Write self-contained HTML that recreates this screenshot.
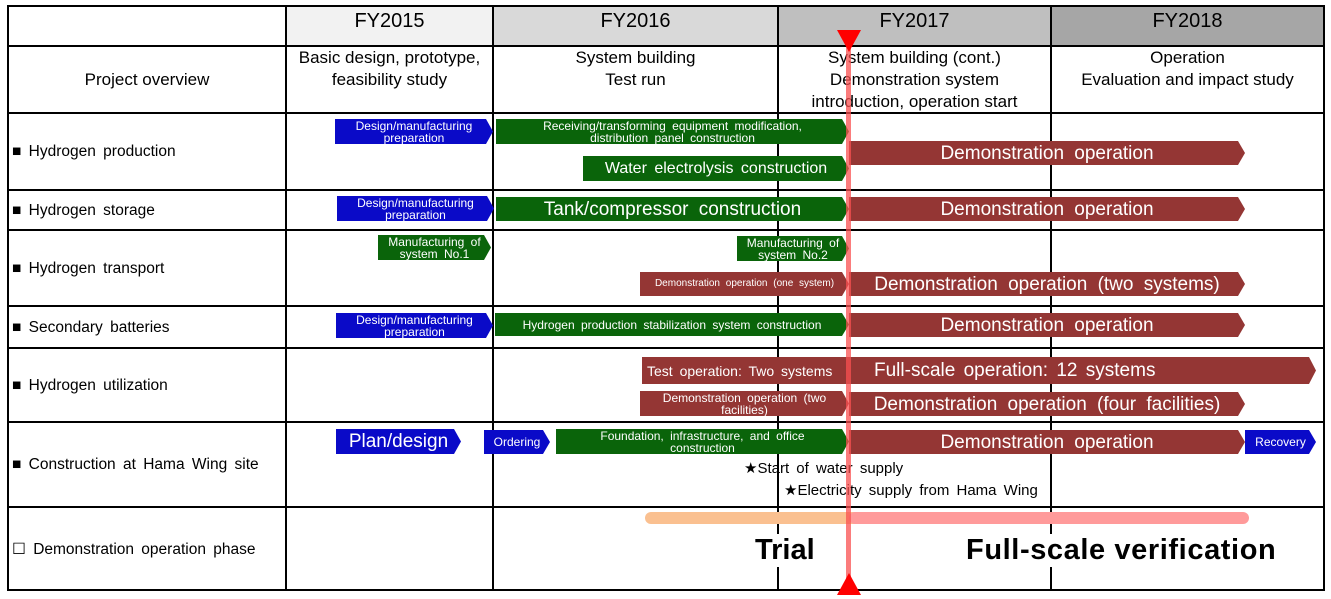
<!DOCTYPE html>
<html><head><meta charset="utf-8"><style>
*{margin:0;padding:0;box-sizing:border-box}
body{width:1331px;height:599px;background:#fff;position:relative;overflow:hidden;font-family:"Liberation Sans",sans-serif;color:#000}
.a{position:absolute}
.h{position:absolute;background:#000}
.c{position:absolute;display:flex;align-items:center;justify-content:center;text-align:center;line-height:1.3}
.lab{position:absolute;left:12px;font-size:15.5px;word-spacing:3px;display:flex;align-items:center}
.b{position:absolute;display:flex;align-items:center;justify-content:center;text-align:center;color:#fff;line-height:1.0;word-spacing:3px;clip-path:polygon(0 0,calc(100% - 7px) 0,100% 50%,calc(100% - 7px) 100%,0 100%);white-space:nowrap}
.bl{background:#0a0ac8}.gr{background:#0a640a}.rd{background:#943634}
.L{font-size:19px;word-spacing:5px}
</style></head><body>
<div class="a" style="left:286px;top:6px;width:207px;height:40px;background:#f2f2f2"></div>
<div class="a" style="left:493px;top:6px;width:285px;height:40px;background:#d9d9d9"></div>
<div class="a" style="left:778px;top:6px;width:273px;height:40px;background:#bfbfbf"></div>
<div class="a" style="left:1051px;top:6px;width:273px;height:40px;background:#a6a6a6"></div>
<div class="h" style="left:7px;top:5px;width:1318px;height:2px"></div>
<div class="h" style="left:7px;top:45px;width:1318px;height:2px"></div>
<div class="h" style="left:7px;top:112px;width:1318px;height:2px"></div>
<div class="h" style="left:7px;top:189px;width:1318px;height:2px"></div>
<div class="h" style="left:7px;top:229px;width:1318px;height:2px"></div>
<div class="h" style="left:7px;top:305px;width:1318px;height:2px"></div>
<div class="h" style="left:7px;top:347px;width:1318px;height:2px"></div>
<div class="h" style="left:7px;top:421px;width:1318px;height:2px"></div>
<div class="h" style="left:7px;top:506px;width:1318px;height:2px"></div>
<div class="h" style="left:7px;top:589px;width:1318px;height:2px"></div>
<div class="h" style="left:7px;top:5px;width:2px;height:586px"></div>
<div class="h" style="left:285px;top:5px;width:2px;height:586px"></div>
<div class="h" style="left:492px;top:5px;width:2px;height:586px"></div>
<div class="h" style="left:777px;top:5px;width:2px;height:586px"></div>
<div class="h" style="left:1050px;top:5px;width:2px;height:586px"></div>
<div class="h" style="left:1323px;top:5px;width:2px;height:586px"></div>
<div class="c" style="left:286px;top:6px;width:207px;height:30px;font-size:20px">FY2015</div>
<div class="c" style="left:493px;top:6px;width:285px;height:30px;font-size:20px">FY2016</div>
<div class="c" style="left:778px;top:6px;width:273px;height:30px;font-size:20px">FY2017</div>
<div class="c" style="left:1051px;top:6px;width:273px;height:30px;font-size:20px">FY2018</div>
<div class="c" style="left:8px;top:47px;width:278px;height:66px;font-size:17px">Project overview</div>
<div class="c" style="left:286px;top:47px;width:207px;height:44px;font-size:17px">Basic design, prototype,<br>feasibility study</div>
<div class="c" style="left:493px;top:47px;width:285px;height:44px;font-size:17px">System building<br>Test run</div>
<div class="c" style="left:778px;top:47px;width:273px;height:66px;font-size:17px">System building (cont.)<br>Demonstration system<br>introduction, operation start</div>
<div class="c" style="left:1051px;top:47px;width:273px;height:44px;font-size:17px">Operation<br>Evaluation and impact study</div>
<div class="lab" style="top:114px;height:76px">■ Hydrogen production</div>
<div class="lab" style="top:191px;height:39px">■ Hydrogen storage</div>
<div class="lab" style="top:231px;height:75px">■ Hydrogen transport</div>
<div class="lab" style="top:307px;height:41px">■ Secondary batteries</div>
<div class="lab" style="top:349px;height:73px">■ Hydrogen utilization</div>
<div class="lab" style="top:423px;height:84px">■ Construction at Hama Wing site</div>
<div class="lab" style="top:508px;height:82px">☐ Demonstration operation phase</div>
<div class="b bl" style="left:335px;top:119px;width:158px;height:25px;font-size:12px">Design/manufacturing<br>preparation</div>
<div class="b gr" style="left:496px;top:119px;width:353px;height:25px;font-size:12px">Receiving/transforming equipment modification,<br>distribution panel construction</div>
<div class="b gr" style="left:583px;top:156px;width:266px;height:25px;font-size:16px">Water electrolysis construction</div>
<div class="b rd L" style="left:849px;top:141px;width:396px;height:24px">Demonstration operation</div>
<div class="b bl" style="left:337px;top:196px;width:157px;height:25px;font-size:12px">Design/manufacturing<br>preparation</div>
<div class="b gr L" style="left:496px;top:197px;width:353px;height:24px">Tank/compressor construction</div>
<div class="b rd L" style="left:849px;top:197px;width:396px;height:24px">Demonstration operation</div>
<div class="b gr" style="left:378px;top:235px;width:113px;height:25px;font-size:12px">Manufacturing of<br>system No.1</div>
<div class="b gr" style="left:737px;top:236px;width:112px;height:25px;font-size:12px">Manufacturing of<br>system No.2</div>
<div class="b rd" style="left:640px;top:272px;width:209px;height:24px;font-size:10px">Demonstration operation (one system)</div>
<div class="b rd L" style="left:849px;top:272px;width:396px;height:24px">Demonstration operation (two systems)</div>
<div class="b bl" style="left:336px;top:313px;width:157px;height:25px;font-size:12px">Design/manufacturing<br>preparation</div>
<div class="b gr" style="left:495px;top:313px;width:354px;height:23px;font-size:12px">Hydrogen production stabilization system construction</div>
<div class="b rd L" style="left:849px;top:313px;width:396px;height:24px">Demonstration operation</div>
<div class="b rd" style="left:642px;top:357px;width:674px;height:27px;font-size:19px;justify-content:flex-start">
<span style="font-size:14px;margin-left:5px">Test operation: Two systems</span><span style="position:absolute;left:232px">Full-scale operation: 12 systems</span></div>
<div class="b rd" style="left:640px;top:391px;width:209px;height:25px;font-size:12px">Demonstration operation (two<br>facilities)</div>
<div class="b rd L" style="left:849px;top:392px;width:396px;height:24px">Demonstration operation (four facilities)</div>
<div class="b bl" style="left:336px;top:429px;width:125px;height:25px;font-size:19px;word-spacing:0">Plan/design</div>
<div class="b bl" style="left:484px;top:430px;width:66px;height:24px;font-size:12px">Ordering</div>
<div class="b gr" style="left:556px;top:429px;width:293px;height:25px;font-size:12px">Foundation, infrastructure, and office<br>construction</div>
<div class="b rd L" style="left:849px;top:430px;width:396px;height:24px">Demonstration operation</div>
<div class="b bl" style="left:1245px;top:430px;width:71px;height:24px;font-size:12px">Recovery</div>
<div class="a" style="left:744px;top:459px;font-size:15px;word-spacing:3px">★Start of water supply</div>
<div class="a" style="left:784px;top:481px;font-size:15px;word-spacing:3px">★Electricity supply from Hama Wing</div>
<div class="a" style="left:645px;top:512px;width:220px;height:12px;background:#fac090;border-radius:6px"></div>
<div class="a" style="left:849px;top:512px;width:400px;height:12px;background:#ff9a9a;border-radius:6px"></div>
<div class="a" style="left:752px;top:534px;font-size:29px;font-weight:bold;background:#fff;padding:0 3px">Trial</div>
<div class="a" style="left:966px;top:534px;font-size:29px;font-weight:bold;background:#fff;letter-spacing:0.6px">Full-scale verification</div>
<div class="a" style="left:846px;top:30px;width:5px;height:560px;background:rgba(250,80,80,0.75)"></div>
<div class="a" style="left:837px;top:30px;width:0;height:0;border-left:12px solid transparent;border-right:12px solid transparent;border-top:22px solid #f00"></div>
<div class="a" style="left:837px;top:573px;width:0;height:0;border-left:12px solid transparent;border-right:12px solid transparent;border-bottom:22px solid #f00"></div>
</body></html>
